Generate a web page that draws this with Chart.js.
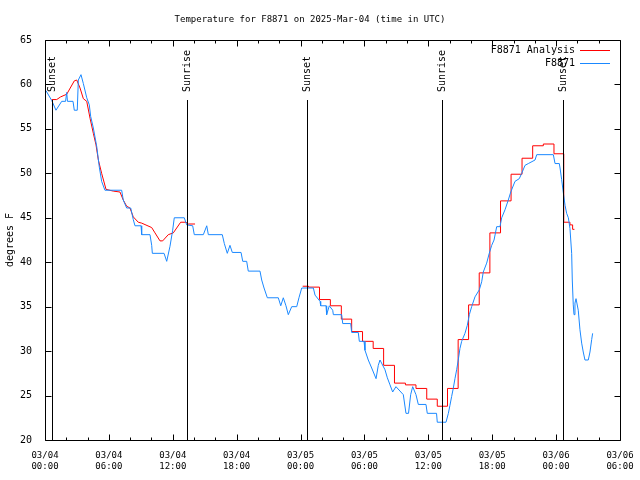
<!DOCTYPE html>
<html>
<head>
<meta charset="utf-8">
<script src="https://cdn.jsdelivr.net/npm/chart.js@4.4.1/dist/chart.umd.min.js"></script>
<style>
body{margin:0;background:#fff}
canvas{display:block}
</style>
</head>
<body>
<canvas id="tempChart" width="640" height="480"></canvas>
<script>
// all times are hours since 03/04 00:00 UTC

// F8871 observations
const obsHours = [0.09,0.63,1.03,1.57,1.93,2.04,2.11,2.63,2.75,3.03,
3.13,3.38,3.60,3.92,4.16,4.29,4.54,4.86,5.10,5.32,
5.63,7.20,7.35,7.67,8.05,8.29,8.45,9.02,9.08,9.86,
10.02,10.08,11.18,11.43,11.74,11.99,12.14,13.08,13.31,13.87,
14.02,14.87,15.19,15.34,16.65,16.84,17.12,17.37,17.59,18.41,
18.57,18.94,19.09,20.19,20.35,20.57,20.88,21.91,22.14,22.38,
22.63,22.85,23.17,23.64,23.85,24.11,25.20,25.36,25.83,25.89,
26.39,26.45,26.70,27.02,27.08,27.86,27.96,28.71,28.80,29.42,
29.52,29.96,30.05,30.36,30.68,31.09,31.30,31.46,31.93,32.15,
32.40,32.65,32.96,33.65,33.90,34.14,34.34,34.53,34.84,35.06,
35.78,35.90,36.77,36.84,37.66,37.88,38.03,38.19,38.34,38.50,
38.66,38.81,38.97,39.13,39.44,39.66,39.85,40.07,40.38,40.79,
41.01,41.16,41.48,41.72,41.95,42.17,42.42,42.73,42.89,43.20,
43.51,43.74,44.14,44.54,44.77,45.08,45.39,46.02,46.18,47.74,
47.90,48.30,48.37,48.52,48.68,48.84,48.99,49.15,49.30,49.46,
49.52,49.61,49.68,49.77,49.87,50.08,50.24,50.40,50.55,50.71,
51.02,51.18,51.34,51.43]
const obsTemps = [59.3,58.2,57.1,58.1,58.1,59.1,58.1,58.1,57.1,57.1,
60.5,61.1,60.1,58.5,57.7,56.4,55.1,53.0,50.7,49.1,
48.1,48.1,47.0,46.1,46.1,44.8,44.1,44.1,43.1,43.1,
41.9,41.0,41.0,40.1,41.8,43.6,45.0,45.0,44.2,44.1,
43.1,43.1,44.1,43.1,43.1,42.1,41.0,41.9,41.1,41.1,
40.1,40.1,39.0,39.0,38.0,37.1,36.0,36.0,35.1,36.0,
35.1,34.1,35.0,35.0,36.0,37.1,37.1,36.3,35.6,35.1,
35.1,34.1,35.1,34.6,34.1,34.1,33.1,33.1,32.1,32.1,
31.1,31.1,30.1,29.0,28.1,26.9,28.4,29.0,27.9,27.0,
26.2,25.4,26.0,25.1,23.0,23.0,25.1,26.0,25.1,24.0,
24.0,23.0,23.0,22.0,22.0,23.0,23.9,24.9,25.8,26.9,
27.9,29.0,30.3,31.1,32.0,32.9,34.1,35.0,36.1,36.9,
37.8,38.9,39.9,41.0,41.9,42.5,44.0,44.0,45.0,45.9,
47.0,47.9,49.1,49.4,50.0,50.9,51.1,51.5,52.1,52.1,
51.1,51.1,50.6,49.3,47.8,46.4,45.5,45.0,43.8,41.0,
38.0,35.2,34.1,35.4,35.9,34.6,32.4,30.9,29.9,29.0,
29.0,29.9,31.3,32.0]

// F8871 analysis, first day (line)
const anaHours = [0.63,1.10,1.47,2.04,2.75,2.98,3.29,3.60,3.92,4.23,
4.54,4.79,5.01,5.32,5.73,6.41,7.04,7.35,7.67,7.98,
8.29,8.76,9.08,10.02,10.33,10.80,11.05,11.58,12.05,12.74,
13.24,13.46,14.09]
const anaTemps = [58.3,58.3,58.6,58.9,60.4,60.5,59.6,58.4,58.1,56.2,
54.5,53.2,51.5,50.0,48.2,48.0,47.9,47.0,46.3,46.1,
45.1,44.5,44.4,43.9,43.3,42.4,42.4,43.1,43.3,44.5,
44.5,44.3,44.3]

// F8871 analysis, hourly steps
const stepHours = [24.2,24.75,25.78,26.8,27.83,28.8,29.82,30.82,31.8,32.82,
33.85,34.84,35.85,36.84,37.8,38.8,39.78,40.78,41.78,42.78,
43.77,44.8,45.8,46.8,47.8,48.72,49.3,49.55,49.72]
const stepTemps = [37.3,37.2,35.8,35.1,33.6,32.2,31.1,30.3,28.4,26.4,
26.2,25.8,24.6,23.8,25.8,31.3,35.2,38.8,43.3,46.9,
49.9,51.7,53.1,53.3,52.2,44.5,44.2,43.7,43.7]

// sunrise / sunset markers
const sunHours = [0.68, 13.3, 24.6, 37.3, 48.67]
const sunNames = ["Sunset", "Sunrise", "Sunset", "Sunrise", "Sunset"]

// x tick labels, every 6 hours
const tickDays = ["03/04","03/04","03/04","03/04","03/05","03/05","03/05","03/05","03/06","03/06"]
const tickTimes = ["00:00","06:00","12:00","18:00","00:00","06:00","12:00","18:00","00:00","06:00"]

const FONT = '"DejaVu Sans Mono", monospace'

function toPoints(xs, ys){
return xs.map((x, i) => ({x: x, y: ys[i]}))
}

// vertical sun lines with rotated labels
const sunMarkers = {
id: "sunMarkers",
afterDatasetsDraw(chart){
const {ctx, chartArea, scales} = chart
ctx.save()
ctx.strokeStyle = "#000"
ctx.fillStyle = "#000"
ctx.lineWidth = 1
ctx.font = "10px " + FONT
ctx.textAlign = "left"
ctx.textBaseline = "middle"
sunHours.forEach((h, i) => {
const px = Math.round(scales.x.getPixelForValue(h)) + 0.5
ctx.beginPath()
ctx.moveTo(px, chartArea.top + 60)
ctx.lineTo(px, chartArea.bottom)
ctx.stroke()
ctx.save()
ctx.translate(px, chartArea.top + 52)
ctx.rotate(-Math.PI / 2)
ctx.fillText(sunNames[i], 0, 0)
ctx.restore()
})
ctx.restore()
}
}

// box around the plot with inward ticks on all sides
const frameTicks = {
id: "frameTicks",
afterDraw(chart){
const {ctx, chartArea: a, scales} = chart
const L = Math.round(a.left) + 0.5
const R = Math.round(a.right) + 0.5
const T = Math.round(a.top) + 0.5
const B = Math.round(a.bottom) + 0.5
ctx.save()
ctx.strokeStyle = "#000"
ctx.lineWidth = 1
ctx.beginPath()
ctx.rect(L, T, R - L, B - T)
for (let h = scales.x.min; h <= scales.x.max; h += 2) {
const len = h % 6 === 0 ? 6 : 3
const px = Math.round(scales.x.getPixelForValue(h)) + 0.5
ctx.moveTo(px, B); ctx.lineTo(px, B - len)
ctx.moveTo(px, T); ctx.lineTo(px, T + len)
}
scales.y.ticks.forEach(t => {
const py = Math.round(scales.y.getPixelForValue(t.value)) + 0.5
ctx.moveTo(L, py); ctx.lineTo(L + 6, py)
ctx.moveTo(R, py); ctx.lineTo(R - 6, py)
})
ctx.stroke()
ctx.restore()
}
}

// gnuplot style key, top right inside the plot
const insideKey = {
id: "insideKey",
afterDraw(chart){
const {ctx, chartArea: a} = chart
const items = chart.data.datasets.filter(d => d.label !== "")
ctx.save()
ctx.font = "10px " + FONT
ctx.fillStyle = "#000"
ctx.textAlign = "right"
ctx.textBaseline = "middle"
ctx.lineWidth = 1
items.forEach((d, i) => {
const y = Math.round(a.top + 10 + i * 13) + 0.5
ctx.fillText(d.label, a.right - 45, y)
ctx.strokeStyle = d.borderColor
ctx.beginPath()
ctx.moveTo(a.right - 40, y)
ctx.lineTo(a.right - 10, y)
ctx.stroke()
})
ctx.restore()
}
}

const line = {borderWidth: 1, pointRadius: 0, tension: 0, fill: false}

new Chart(document.getElementById("tempChart"), {
type: "line",
data: {
datasets: [
Object.assign({label: "F8871 Analysis", data: toPoints(anaHours, anaTemps), borderColor: "#ff0000", order: 1}, line),
Object.assign({label: "", data: toPoints(stepHours, stepTemps), borderColor: "#ff0000", stepped: true, order: 1}, line),
Object.assign({label: "F8871", data: toPoints(obsHours, obsTemps), borderColor: "#1a88ff", order: 0}, line)
]
},
options: {
responsive: false,
animation: false,
layout: {padding: {right: 20}},
scales: {
x: {
type: "linear", min: 0, max: 54,
grid: {display: false}, border: {display: false},
ticks: {
stepSize: 6, autoSkip: false, maxRotation: 0, padding: 2,
color: "#000", font: {family: FONT, size: 9},
callback: v => [tickDays[v / 6], tickTimes[v / 6]]
},
afterFit: s => { s.height = 40 }
},
y: {
min: 20, max: 65,
grid: {display: false}, border: {display: false},
ticks: {stepSize: 5, padding: 5, color: "#000", font: {family: FONT, size: 10}},
title: {display: true, text: "degrees F", color: "#000", font: {family: FONT, size: 10}, padding: {top: 4, bottom: 0}},
afterFit: s => { s.width = 45 }
}
},
plugins: {
title: {
display: true,
text: "Temperature for F8871 on 2025-Mar-04 (time in UTC)",
color: "#000",
font: {family: FONT, size: 9, weight: "normal"},
padding: {top: 14, bottom: 15.2}
},
legend: {display: false},
tooltip: {enabled: false}
}
},
plugins: [sunMarkers, frameTicks, insideKey]
})
</script>
</body>
</html>
